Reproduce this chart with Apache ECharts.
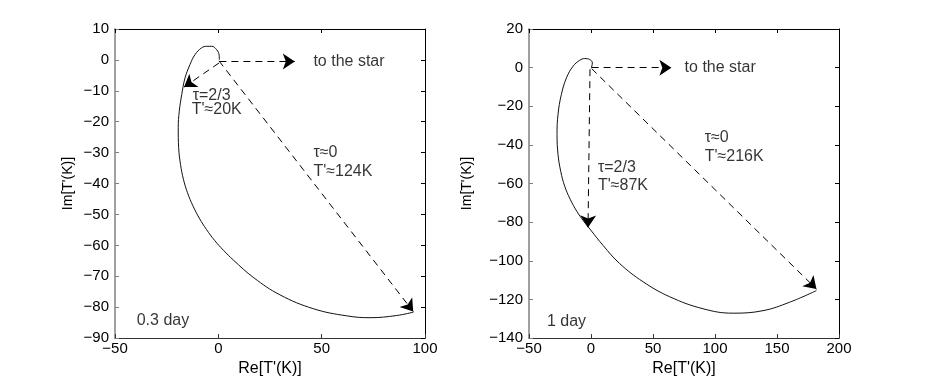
<!DOCTYPE html>
<html>
<head>
<meta charset="utf-8">
<script src="https://cdn.jsdelivr.net/npm/echarts@6/dist/echarts.min.js"></script>
<style>
html,body{margin:0;padding:0;background:#fff;}
#c{width:926px;height:382px;}
</style>
</head>
<body>
<div id="c"></div>
<script>
// ---- Data ----
// Left panel (0.3 day): trajectory of T' in complex plane
var curveA = [
  [0.5,0.0],[0.4,1.5],[-0.8,3.3],[-3.2,4.4],[-5.6,4.4],[-8.1,3.9],[-11.3,1.7],
  [-13.7,-1.5],[-16.1,-5.8],[-17.7,-11.2],[-18.9,-16.6],[-19.4,-21.9],[-19.2,-28.4],
  [-18.3,-33.8],[-16.9,-38.6],[-14.9,-43.0],[-12.3,-47.2],[-9.2,-51.2],[-5.7,-54.9],
  [-1.8,-58.4],[2.5,-61.6],[7.2,-64.7],[17.2,-70.5],[29.8,-76.0],[46.0,-80.5],
  [62.1,-82.8],[73.4,-83.4],[86.3,-82.7],[94.4,-81.6]
];
// Right panel (1 day)
var curveB = [
  [0.3,-0.1],[1.1,2.5],[-1.0,4.2],[-5.1,4.7],[-9.1,3.8],[-14.5,0.7],[-19.8,-5.3],
  [-23.9,-13.9],[-26.6,-24.2],[-27.4,-34.6],[-26.6,-44.9],[-24.4,-53.7],[-21.2,-61.4],
  [-16.8,-68.1],[-11.5,-74.3],[-5.9,-79.5],[-0.2,-84.1],[9.7,-92.0],[23.1,-101.4],
  [41.9,-110.8],[63.5,-118.6],[90.3,-124.8],[114.5,-127.1],[138.7,-125.8],
  [160.3,-121.4],[181.8,-115.4]
];
// Dashed arrows [from, to]
var arrowsA = [
  [[0.5,-0.5],[37.0,-0.5]],
  [[0.3,-1.0],[-16.6,-8.8]],
  [[0.3,-0.3],[94.3,-81.4]]
];
var arrowsB = [
  [[0.5,0.0],[64.8,0.0]],
  [[-0.8,-0.8],[-2.4,-82.7]],
  [[0.5,-0.5],[181.8,-114.6]]
];
// Text annotations [x, y, text]
var textA = [
  [46.0,-0.5,'to the star'],
  [-12.4,-11.4,'\u03c4=2/3'],
  [-12.9,-16.1,"T'\u224820K"],
  [46.0,-30.0,'\u03c4\u22480'],
  [46.0,-36.1,"T'\u2248124K"],
  [-39.5,-84.3,'0.3 day']
];
var textB = [
  [75.5,0.0,'to the star'],
  [91.7,-36.3,'\u03c4\u22480'],
  [91.7,-45.8,"T'\u2248216K"],
  [5.6,-51.7,'\u03c4=2/3'],
  [5.6,-61.2,"T'\u224887K"],
  [-35.5,-131.4,'1 day']
];
// Axis ranges / ticks
var xRangeA = [-50,100,50], yRangeA = [-90,10,10];
var xRangeB = [-50,200,50], yRangeB = [-140,20,20];
var xName = "Re[T'(K)]", yName = "Im[T'(K)]";

// ---- Chart ----
var FONT = '"Liberation Sans", Arial, Helvetica, sans-serif';
var chart = echarts.init(document.getElementById('c'), null, {renderer:'canvas'});
function fmt(v){ return String(v).replace('-', '\u2212'); }

function mainX(grid, r){
  return {type:'value', gridIndex:grid, position:'bottom', min:r[0], max:r[1], interval:r[2],
    name:xName, nameLocation:'middle', nameGap:22,
    nameTextStyle:{fontFamily:FONT, fontSize:16, color:'#000'},
    axisLine:{onZero:false, lineStyle:{color:'#333', width:1}},
    axisTick:{inside:true, length:4, lineStyle:{color:'#333'}},
    axisLabel:{fontFamily:FONT, fontSize:15, color:'#000', margin:3, formatter:fmt},
    splitLine:{show:false}};
}
function topX(grid, r){
  return {type:'value', gridIndex:grid, position:'top', min:r[0], max:r[1], interval:r[2],
    axisLine:{onZero:false, lineStyle:{color:'#000', width:1}},
    axisTick:{inside:true, length:4, lineStyle:{color:'#000'}},
    axisLabel:{show:false}, splitLine:{show:false}};
}
function mainY(grid, r, gap){
  return {type:'value', gridIndex:grid, position:'left', min:r[0], max:r[1], interval:r[2],
    name:yName, nameLocation:'middle', nameGap:gap, nameRotate:90,
    nameTextStyle:{fontFamily:FONT, fontSize:14, color:'#000'},
    axisLine:{onZero:false, lineStyle:{color:'#808080', width:1.5}},
    axisTick:{inside:true, length:4, lineStyle:{color:'#808080'}},
    axisLabel:{fontFamily:FONT, fontSize:15, color:'#000', margin:6, formatter:fmt},
    splitLine:{show:false}};
}
function rightY(grid, r){
  return {type:'value', gridIndex:grid, position:'right', min:r[0], max:r[1], interval:r[2],
    axisLine:{onZero:false, lineStyle:{color:'#000', width:1}},
    axisTick:{inside:true, length:4, lineStyle:{color:'#000'}},
    axisLabel:{show:false}, splitLine:{show:false}};
}
function curveSeries(data, xi, yi){
  return {type:'line', xAxisIndex:xi, yAxisIndex:yi, data:data, showSymbol:false, symbol:'none',
    smooth:0.4, lineStyle:{color:'#111', width:1}, silent:true, z:3};
}
function arrowSeries(arr, xi, yi){
  return {type:'lines', coordinateSystem:'cartesian2d', xAxisIndex:xi, yAxisIndex:yi,
    data:arr.map(function(a){return {coords:a};}),
    symbol:['none','arrow'], symbolSize:[9,12],
    lineStyle:{color:'#000', width:1, type:[7,5], opacity:1}, silent:true, z:4};
}
function textSeries(arr, xi, yi){
  return {type:'scatter', xAxisIndex:xi, yAxisIndex:yi, symbolSize:0, silent:true, z:5,
    data:arr.map(function(t){return {value:[t[0],t[1]], name:t[2]};}),
    label:{show:true, position:'right', distance:0, formatter:'{b}',
      fontFamily:FONT, fontSize:16, color:'#000'}};
}

chart.setOption({
  animation:false,
  backgroundColor:'#fff',
  grid:[
    {left:115, top:29, width:310, height:310},
    {left:529, top:29, width:310, height:310}
  ],
  xAxis:[mainX(0,xRangeA), topX(0,xRangeA), mainX(1,xRangeB), topX(1,xRangeB)],
  yAxis:[mainY(0,yRangeA,40), rightY(0,yRangeA), mainY(1,yRangeB,55), rightY(1,yRangeB)],
  series:[
    curveSeries(curveA,0,0), arrowSeries(arrowsA,0,0), textSeries(textA,0,0),
    curveSeries(curveB,2,2), arrowSeries(arrowsB,2,2), textSeries(textB,2,2)
  ]
});
</script>
</body>
</html>
